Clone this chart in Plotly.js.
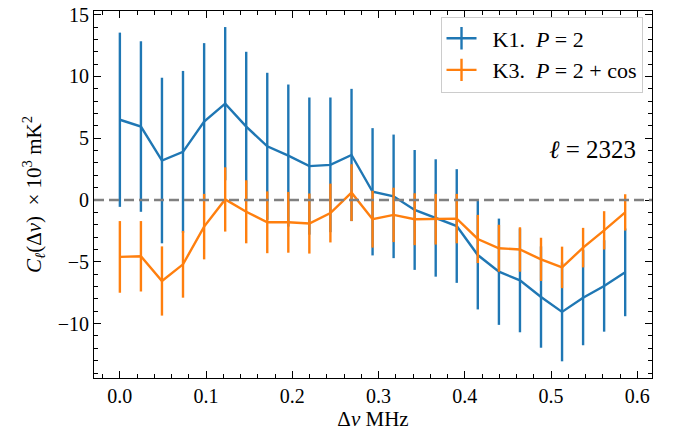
<!DOCTYPE html>
<html>
<head>
<meta charset="utf-8">
<script src="https://cdn.plot.ly/plotly-3.0.1.min.js"></script>
<style>html,body{margin:0;padding:0;background:#fff;}#chart{width:682px;height:431px;}</style>
</head>
<body>
<div id="chart"></div>
<script>
const dnu = [0, 0.0244, 0.0488, 0.0732, 0.0977, 0.1221, 0.1465, 0.1709, 0.1953, 0.2197, 0.2441, 0.2686, 0.2930, 0.3174, 0.3418, 0.3662, 0.3906, 0.4150, 0.4395, 0.4639, 0.4883, 0.5127, 0.5371, 0.5615, 0.5859];
const k1 = [6.5, 5.95, 3.2, 3.9, 6.35, 7.8, 5.95, 4.35, 3.6, 2.75, 2.85, 3.65, 0.67, 0.3, -0.8, -1.45, -2.1, -4.45, -5.8, -6.5, -7.85, -9.05, -7.9, -6.95, -5.85];
const k1err = [7.05, 6.9, 6.7, 6.55, 6.35, 6.2, 6.05, 5.95, 5.75, 5.55, 5.45, 5.35, 5.15, 5.0, 4.85, 4.75, 4.6, 4.4, 4.3, 4.2, 4.1, 4.0, 3.85, 3.7, 3.55];
const k3 = [-4.6, -4.55, -6.55, -5.2, -2.15, 0.05, -0.95, -1.8, -1.8, -1.9, -1.05, 0.6, -1.55, -1.2, -1.55, -1.55, -1.5, -3.15, -3.9, -4.0, -4.8, -5.45, -3.85, -2.45, -1.0];
const k3err = [2.9, 2.85, 2.8, 2.7, 2.65, 2.6, 2.55, 2.5, 2.46, 2.43, 2.38, 2.3, 2.3, 2.2, 2.1, 2.05, 2.0, 1.95, 1.9, 1.8, 1.75, 1.68, 1.6, 1.55, 1.47];
const names = ['&nbsp;&nbsp;K1.&nbsp;&nbsp;<i>P</i> = 2', '&nbsp;&nbsp;K3.&nbsp;&nbsp;<i>P</i> = 2 + cos'];
const colors = ['#1f77b4', '#ff7f0e'];

const FONT = 'Liberation Serif, DejaVu Serif, serif';

const traces = [
  {x: dnu, y: k1, mode: 'lines', line: {color: colors[0], width: 2.4},
   error_y: {type: 'data', array: k1err, visible: true, color: colors[0], thickness: 2.4, width: 0},
   showlegend: false, hoverinfo: 'skip'},
  {x: dnu, y: k3, mode: 'lines', line: {color: colors[1], width: 2.4},
   error_y: {type: 'data', array: k3err, visible: true, color: colors[1], thickness: 2.4, width: 0},
   showlegend: false, hoverinfo: 'skip'},
  {x: [null], y: [null], mode: 'lines+markers', name: names[0], line: {color: colors[0], width: 2.4},
   marker: {symbol: 'line-ns', size: 20, line: {color: colors[0], width: 2.4}}},
  {x: [null], y: [null], mode: 'lines+markers', name: names[1], line: {color: colors[1], width: 2.4},
   marker: {symbol: 'line-ns', size: 20, line: {color: colors[1], width: 2.4}}}
];

const axisCommon = {
  showgrid: false, zeroline: false, showline: true, linecolor: '#000', linewidth: 1,
  mirror: 'allticks', ticks: 'inside', ticklen: 7, tickwidth: 1, tickcolor: '#000',
  tickfont: {family: FONT, size: 20, color: '#000'}
};

const layout = {
  width: 682, height: 431,
  margin: {l: 94, r: 30, t: 11, b: 53},
  paper_bgcolor: '#fff', plot_bgcolor: '#fff',
  font: {family: FONT, color: '#000'},
  xaxis: Object.assign({}, axisCommon, {
    range: [-0.030, 0.617], tickvals: [0, 0.1, 0.2, 0.3, 0.4, 0.5, 0.6],
    ticktext: ['0.0', '0.1', '0.2', '0.3', '0.4', '0.5', '0.6'],
    minor: {dtick: 0.02, tick0: 0, ticks: 'inside', ticklen: 4, tickcolor: '#000', showgrid: false},
    title: {text: 'Δ<i>ν</i> MHz', font: {family: FONT, size: 21}, standoff: 6}
  }),
  yaxis: Object.assign({}, axisCommon, {
    range: [-14.4, 15.3], tickvals: [-10, -5, 0, 5, 10, 15],
    minor: {dtick: 1, tick0: 0, ticks: 'inside', ticklen: 4, tickcolor: '#000', showgrid: false},
    title: {text: '<i>C</i><sub><i>ℓ</i></sub>(Δ<i>ν</i>)  × 10<sup>3</sup> mK<sup>2</sup>', font: {family: FONT, size: 21}, standoff: 10}
  }),
  shapes: [{type: 'line', xref: 'paper', x0: 0, x1: 1, yref: 'y', y0: 0, y1: 0,
            line: {color: '#808080', width: 2.4, dash: '10px,5px'}, layer: 'above'}],
  legend: {x: 0.983, y: 0.985, xanchor: 'right', yanchor: 'top',
           bgcolor: 'rgba(255,255,255,0.8)', bordercolor: '#cccccc', borderwidth: 1,
           font: {family: FONT, size: 22}, tracegroupgap: 0},
  annotations: [{xref: 'paper', yref: 'y', x: 0.975, y: 4.1, xanchor: 'right', yanchor: 'middle',
                 text: '<i>ℓ</i> = 2323', showarrow: false, font: {family: FONT, size: 25, color: '#000'}}]
};

Plotly.newPlot('chart', traces, layout, {staticPlot: true});
</script>
</body>
</html>
